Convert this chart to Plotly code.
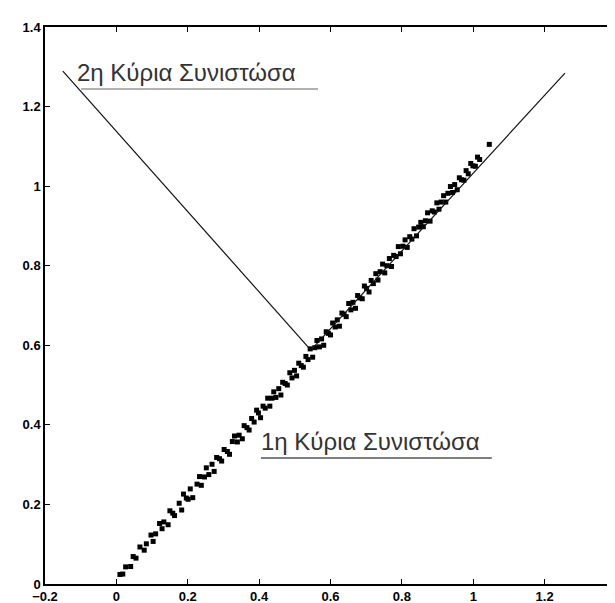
import plotly.graph_objects as go

# Scatter data
data_x = [0.010, 0.018, 0.026, 0.040, 0.047, 0.055, 0.066, 0.078, 0.084, 0.097, 0.103, 0.110, 0.121, 0.128, 0.133,
          0.145, 0.150, 0.158, 0.163, 0.176, 0.183, 0.188, 0.196, 0.201, 0.207, 0.214, 0.226, 0.233, 0.238, 0.247,
          0.252, 0.259, 0.268, 0.274, 0.281, 0.289, 0.295, 0.302, 0.311, 0.317, 0.325, 0.331, 0.339, 0.344, 0.353,
          0.358, 0.366, 0.372, 0.379, 0.386, 0.393, 0.398, 0.404, 0.411, 0.417, 0.424, 0.430, 0.436, 0.441, 0.447,
          0.455, 0.461, 0.466, 0.473, 0.479, 0.486, 0.492, 0.499, 0.505, 0.511, 0.518, 0.524, 0.531, 0.537, 0.543,
          0.550, 0.556, 0.562, 0.569, 0.575, 0.581, 0.588, 0.594, 0.600, 0.606, 0.613, 0.619, 0.625, 0.632, 0.638,
          0.644, 0.651, 0.657, 0.663, 0.670, 0.676, 0.682, 0.689, 0.695, 0.701, 0.708, 0.714, 0.720, 0.727, 0.733,
          0.739, 0.746, 0.752, 0.758, 0.765, 0.771, 0.777, 0.784, 0.790, 0.796, 0.803, 0.809, 0.815, 0.822, 0.828,
          0.834, 0.841, 0.847, 0.853, 0.860, 0.866, 0.872, 0.879, 0.885, 0.891, 0.898, 0.904, 0.910, 0.917, 0.923,
          0.929, 0.936, 0.942, 0.948, 0.955, 0.961, 0.967, 0.974, 0.980, 0.986, 0.993, 0.999, 1.006, 1.012, 1.018,
          1.045]
data_y = [0.024, 0.025, 0.043, 0.044, 0.069, 0.065, 0.093, 0.085, 0.101, 0.123, 0.107, 0.126, 0.152, 0.139, 0.156,
          0.149, 0.184, 0.178, 0.172, 0.203, 0.186, 0.226, 0.216, 0.213, 0.239, 0.217, 0.251, 0.270, 0.248, 0.269,
          0.292, 0.275, 0.301, 0.283, 0.318, 0.315, 0.309, 0.338, 0.333, 0.326, 0.358, 0.372, 0.357, 0.374, 0.365,
          0.398, 0.393, 0.387, 0.416, 0.407, 0.437, 0.430, 0.418, 0.447, 0.442, 0.467, 0.447, 0.467, 0.483, 0.469,
          0.491, 0.475, 0.507, 0.504, 0.500, 0.531, 0.518, 0.537, 0.523, 0.555, 0.549, 0.545, 0.572, 0.564, 0.591,
          0.570, 0.594, 0.612, 0.596, 0.616, 0.600, 0.634, 0.630, 0.626, 0.656, 0.646, 0.664, 0.648, 0.681, 0.678,
          0.672, 0.705, 0.689, 0.708, 0.693, 0.725, 0.719, 0.717, 0.749, 0.743, 0.734, 0.763, 0.755, 0.780, 0.764,
          0.785, 0.804, 0.782, 0.800, 0.818, 0.798, 0.826, 0.823, 0.848, 0.830, 0.849, 0.865, 0.846, 0.873, 0.867,
          0.893, 0.875, 0.897, 0.909, 0.898, 0.913, 0.933, 0.912, 0.938, 0.935, 0.958, 0.942, 0.960, 0.976, 0.960,
          0.982, 0.999, 0.984, 1.004, 0.991, 1.021, 1.016, 1.015, 1.039, 1.031, 1.057, 1.051, 1.050, 1.073, 1.067,
          1.105]

# Principal component segments (start at mean)
pc1_x = [0.545, 1.257]
pc1_y = [0.588, 1.284]
pc2_x = [0.545, -0.150]
pc2_y = [0.588, 1.289]

x_ticks = [-0.2, 0, 0.2, 0.4, 0.6, 0.8, 1, 1.2, 1.4]
y_ticks = [0, 0.2, 0.4, 0.6, 0.8, 1, 1.2, 1.4]

label1 = "1η Κύρια Συνιστώσα"
label2 = "2η Κύρια Συνιστώσα"

fig = go.Figure()
fig.add_trace(go.Scatter(x=data_x, y=data_y, mode="markers",
                         marker=dict(color="black", size=5, symbol="square"),
                         showlegend=False, hoverinfo="skip"))
fig.add_trace(go.Scatter(x=pc1_x, y=pc1_y, mode="lines",
                         line=dict(color="#111", width=1.2), showlegend=False))
fig.add_trace(go.Scatter(x=pc2_x, y=pc2_y, mode="lines",
                         line=dict(color="#111", width=1.2), showlegend=False))

fig.add_annotation(x=-0.115, y=1.247, text=label2, showarrow=False, xanchor="left", yanchor="bottom",
                   font=dict(family="Liberation Sans", size=24, color="#333"))
fig.add_shape(type="line", x0=-0.099, x1=0.565, y0=1.244, y1=1.244, line=dict(color="#999", width=1.5))
fig.add_annotation(x=0.400, y=0.320, text=label1, showarrow=False, xanchor="left", yanchor="bottom",
                   font=dict(family="Liberation Sans", size=24, color="#333"))
fig.add_shape(type="line", x0=0.405, x1=1.052, y0=0.317, y1=0.317, line=dict(color="#555", width=1.5))

axis_common = dict(showgrid=False, zeroline=False, showline=True, linecolor="black", linewidth=1.5,
                   mirror="ticks", ticks="inside", ticklen=5, tickcolor="black", tickwidth=1.2,
                   automargin=False,
                   tickfont=dict(family="Liberation Sans", size=13, color="black", weight="bold"))
fig.update_xaxes(range=[-0.2, 1.4], tickvals=x_ticks, **axis_common)
fig.update_yaxes(range=[0, 1.4], tickvals=y_ticks, **axis_common)

fig.update_layout(width=615, height=603, margin=dict(l=37, r=7, t=19, b=27),
                  plot_bgcolor="white", paper_bgcolor="white")

fig.write_html("out.html")
